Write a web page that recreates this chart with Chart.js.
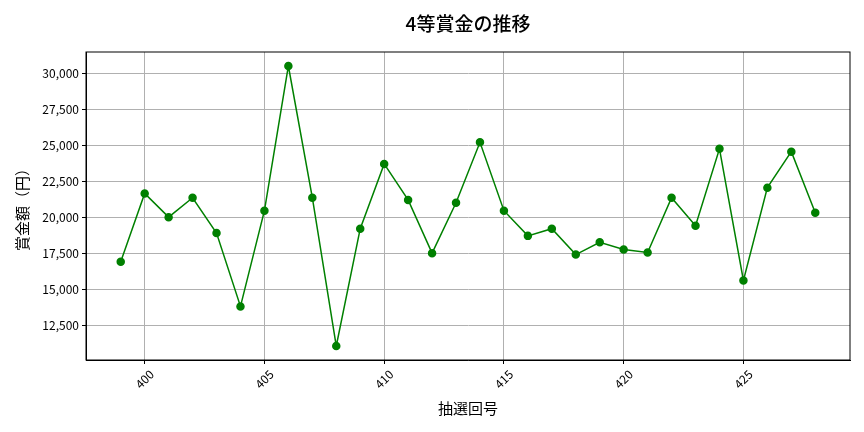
<!DOCTYPE html>
<html>
<head>
<meta charset="utf-8">
<script src="https://cdn.jsdelivr.net/npm/chart.js@4"></script>
<style>
  html, body { margin: 0; padding: 0; background: #fff; }
  #wrap { width: 864px; height: 432px; }
</style>
</head>
<body>
<div id="wrap"><canvas id="chart"></canvas></div>
<script>
const draws = [399, 400, 401, 402, 403, 404, 405, 406, 407, 408, 409, 410, 411, 412, 413,
  414, 415, 416, 417, 418, 419, 420, 421, 422, 423, 424, 425, 426, 427, 428];
const prizes = [16950, 21700, 20050, 21400, 18950, 13850, 20500, 30550, 21400, 11100, 19250, 23750, 21250, 17550, 21050,
  25250, 20500, 18750, 19250, 17450, 18300, 17800, 17600, 21400, 19450, 24800, 15650, 22100, 24600, 20350];
const xTicks = [400, 405, 410, 415, 420, 425];
const yTicks = [12500, 15000, 17500, 20000, 22500, 25000, 27500, 30000];
const titleText = "4等賞金の推移";

const FONT = "'Noto Sans CJK JP', 'Noto Sans', sans-serif";

// matplotlib-like 5% margins around the data
const xPad = (Math.max(...draws) - Math.min(...draws)) * 0.05;
const yPad = (Math.max(...prizes) - Math.min(...prizes)) * 0.05;

// box around the plot + title centred over the plot area
const frame = {
  id: "frame",
  afterDraw(chart) {
    const { ctx, chartArea: a } = chart;
    ctx.save();
    ctx.strokeStyle = "#000";
    ctx.lineWidth = 1;
    ctx.strokeRect(a.left, a.top, a.right - a.left, a.bottom - a.top);
    ctx.fillStyle = "#000";
    ctx.font = "500 19px " + FONT;
    ctx.textAlign = "center";
    ctx.textBaseline = "middle";
    ctx.fillText(titleText, (a.left + a.right) / 2, 24);
    ctx.restore();
  },
};

new Chart(document.getElementById("chart"), {
  type: "line",
  data: {
    datasets: [
      {
        data: draws.map((d, i) => ({ x: d, y: prizes[i] })),
        borderColor: "#008000",
        backgroundColor: "#008000",
        borderWidth: 1.5,
        pointRadius: 3.5,
        pointHoverRadius: 3.5,
        tension: 0,
      },
    ],
  },
  options: {
    responsive: true,
    maintainAspectRatio: false,
    animation: false,
    layout: { padding: { left: 0, right: 14, top: 52, bottom: 0 } },
    plugins: {
      legend: { display: false },
      tooltip: { enabled: false },
      title: { display: false },
    },
    scales: {
      x: {
        type: "linear",
        min: Math.min(...draws) - xPad,
        max: Math.max(...draws) + xPad,
        afterBuildTicks: (s) => { s.ticks = xTicks.map((v) => ({ value: v })); },
        afterFit: (s) => { s.height = 72; },
        grid: { color: "#b0b0b0", tickLength: 4, tickColor: "#000" },
        border: { color: "#000" },
        ticks: {
          color: "#000",
          font: { family: FONT, size: 12 },
          minRotation: 45,
          maxRotation: 45,
          labelOffset: 7,
          padding: 3,
        },
        title: {
          display: true,
          text: "抽選回号",
          color: "#000",
          font: { family: FONT, size: 15 },
          padding: { top: 0, bottom: 15 },
        },
      },
      y: {
        min: Math.min(...prizes) - yPad,
        max: Math.max(...prizes) + yPad,
        afterBuildTicks: (s) => { s.ticks = yTicks.map((v) => ({ value: v })); },
        afterFit: (s) => { s.width = 86; },
        grid: { color: "#b0b0b0", tickLength: 4, tickColor: "#000" },
        border: { color: "#000" },
        ticks: {
          color: "#000",
          font: { family: FONT, size: 12 },
          padding: 3,
          callback: (v) => v.toLocaleString("en-US"),
        },
        title: {
          display: true,
          text: "賞金額（円）",
          color: "#000",
          font: { family: FONT, size: 15 },
          padding: { top: 13, bottom: 0 },
        },
      },
    },
  },
  plugins: [frame],
});
</script>
</body>
</html>
